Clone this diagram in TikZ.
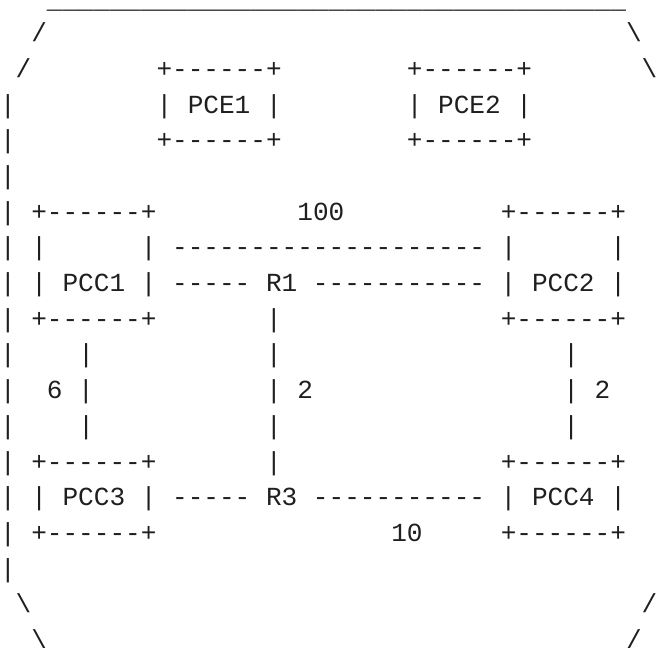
\documentclass[tikz,border=0pt]{standalone}
\usepackage{fontspec}
\newfontfamily\mono{Liberation Mono}[WordSpace={1,0,0}]
\tikzset{ch/.style={anchor=base west,inner sep=0pt,outer sep=0pt,font=\mono\fontsize{26.08}{30}\selectfont,text=black!88}}
\newcommand\ttx[4]{\node[ch] (#1) at ({#2*15.65},{5.9+#3*35.7}) {#4};}
\newcommand\bs{\textbackslash}
\newcommand\us{\string_}
\begin{document}
\begin{tikzpicture}[x=1pt,y=-1pt]
\useasboundingbox (0,0) rectangle (662,648);
% row 0
\node[ch] (top) at ({3*15.65},8.6) {\smash{\us\us\us\us\us\us\us\us\us\us\us\us\us\us\us\us\us\us\us\us\us\us\us\us\us\us\us\us\us\us\us\us\us\us\us\us\us}};
% row 1
\ttx{r1a}{2}{1}{/}
\ttx{r1b}{40}{1}{\bs}
% row 2
\ttx{r2a}{1}{2}{/}
\ttx{pceAt}{10}{2}{+------+}
\ttx{pceBt}{26}{2}{+------+}
\ttx{r2b}{41}{2}{\bs}
% row 3
\ttx{r3a}{0}{3}{|}
\ttx{pceA}{10}{3}{| PCE1 |}
\ttx{pceB}{26}{3}{| PCE2 |}
% row 4
\ttx{r4a}{0}{4}{|}
\ttx{pceAb}{10}{4}{+------+}
\ttx{pceBb}{26}{4}{+------+}
% row 5
\ttx{r5a}{0}{5}{|}
% row 6
\ttx{r6a}{0}{6}{| +------+}
\ttx{w100}{19}{6}{100}
\ttx{pccBt}{32}{6}{+------+}
% row 7
\ttx{r7}{0}{7}{| |~~~~~~| -------------------- |~~~~~~|}
% row 8
\ttx{r8}{0}{8}{| | PCC1 | ----- R1 ----------- | PCC2 |}
% row 9
\ttx{r9a}{0}{9}{| +------+}
\ttx{r9b}{17}{9}{|}
\ttx{pccBb}{32}{9}{+------+}
% row 10
\ttx{r10a}{0}{10}{|}
\ttx{r10b}{5}{10}{|}
\ttx{r10c}{17}{10}{|}
\ttx{r10d}{36}{10}{|}
% row 11
\ttx{r11a}{0}{11}{|}
\ttx{w6}{3}{11}{6 |}
\ttx{w2a}{17}{11}{| 2}
\ttx{w2b}{36}{11}{| 2}
% row 12
\ttx{r12a}{0}{12}{|}
\ttx{r12b}{5}{12}{|}
\ttx{r12c}{17}{12}{|}
\ttx{r12d}{36}{12}{|}
% row 13
\ttx{r13a}{0}{13}{| +------+}
\ttx{r13b}{17}{13}{|}
\ttx{pccDt}{32}{13}{+------+}
% row 14
\ttx{r14}{0}{14}{| | PCC3 | ----- R3 ----------- | PCC4 |}
% row 15
\ttx{r15a}{0}{15}{| +------+}
\ttx{w10}{25}{15}{10}
\ttx{pccDb}{32}{15}{+------+}
% row 16
\ttx{r16a}{0}{16}{|}
% row 17
\ttx{r17a}{1}{17}{\bs}
\ttx{r17b}{41}{17}{/}
% row 18
\ttx{r18a}{2}{18}{\bs}
\ttx{r18b}{40}{18}{/}
\end{tikzpicture}
\end{document}
